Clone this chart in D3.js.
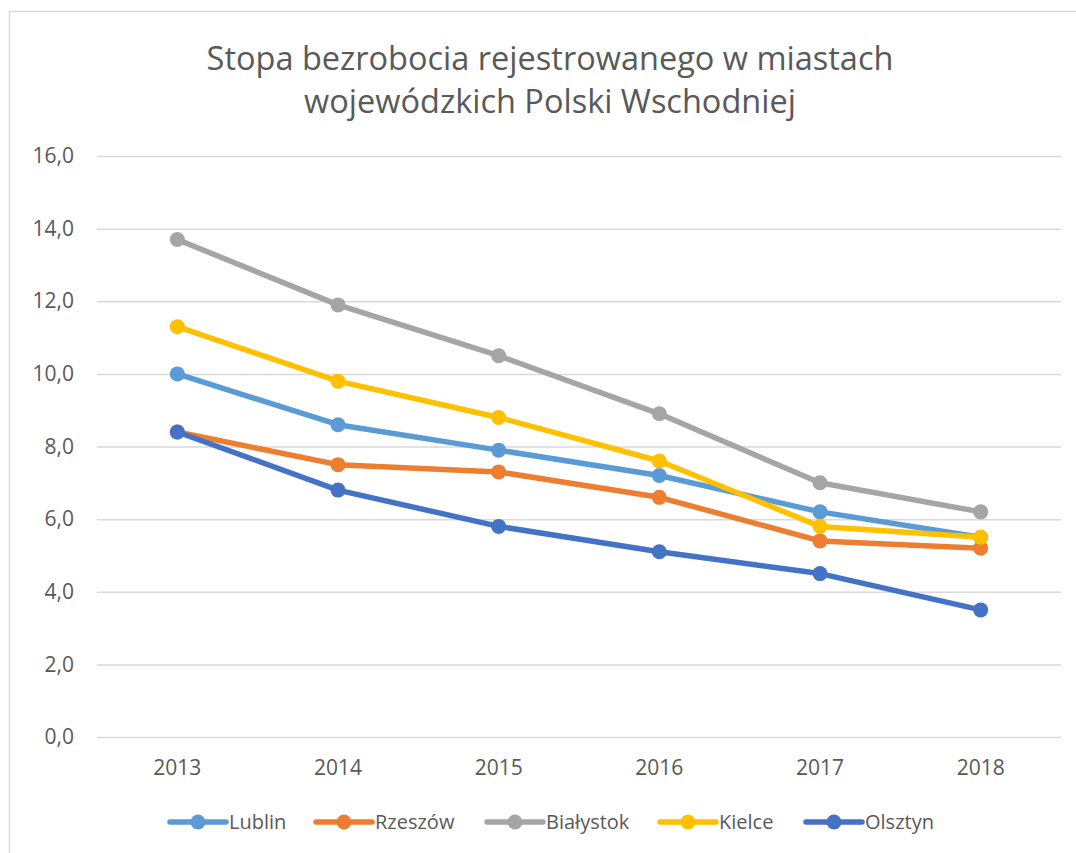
<!DOCTYPE html>
<html>
<head>
<meta charset="utf-8">
<script src="https://cdn.jsdelivr.net/npm/d3@7"></script>
<style>
  body { margin: 0; background: #fff; }
  text { font-family: "Open Sans", "Noto Sans", sans-serif; }
</style>
</head>
<body>
<div id="chart"></div>
<script>
// data
var years = ["2013", "2014", "2015", "2016", "2017", "2018"];
var lublin = [10.0, 8.6, 7.9, 7.2, 6.2, 5.5];
var rzeszow = [8.4, 7.5, 7.3, 6.6, 5.4, 5.2];
var bialystok = [13.7, 11.9, 10.5, 8.9, 7.0, 6.2];
var kielce = [11.3, 9.8, 8.8, 7.6, 5.8, 5.5];
var olsztyn = [8.4, 6.8, 5.8, 5.1, 4.5, 3.5];
var seriesNames = ["Lublin", "Rzeszów", "Białystok", "Kielce", "Olsztyn"];
var yTicks = [0, 2, 4, 6, 8, 10, 12, 14, 16];
var colors = ["#5B9BD5", "#ED7D31", "#A5A5A5", "#FFC000", "#4472C4"];

var allSeries = [lublin, rzeszow, bialystok, kielce, olsztyn];

var svgWidth = 1076, svgHeight = 853;
var margin = {top: 156, right: 15, bottom: 116, left: 97};
var chartWidth = 1061 - margin.left;
var chartHeight = svgHeight - margin.top - margin.bottom;

var svg = d3.select("#chart").append("svg")
  .attr("width", svgWidth)
  .attr("height", svgHeight);

// chart frame
svg.append("rect")
  .attr("x", 9.5).attr("y", 11.5)
  .attr("width", 1100).attr("height", 900)
  .attr("fill", "#fff")
  .attr("stroke", "#D9D9D9")
  .attr("stroke-width", 1.5);

// title
var title = svg.append("text")
  .attr("text-anchor", "middle")
  .attr("fill", "#595959")
  .style("font-size", "32.5px");
title.append("tspan").attr("x", 550).attr("y", 70).text("Stopa bezrobocia rejestrowanego w miastach");
title.append("tspan").attr("x", 550).attr("y", 113).text("wojewódzkich Polski Wschodniej");

var chartGroup = svg.append("g")
  .attr("transform", `translate(${margin.left}, ${margin.top})`);

var yScale = d3.scaleLinear()
  .domain([0, 16])
  .range([chartHeight, 0]);

var xScale = d3.scaleBand()
  .domain(years)
  .range([0, chartWidth]);

// y axis with gridlines
var yAxis = d3.axisLeft(yScale)
  .tickValues(yTicks)
  .tickSize(-chartWidth)
  .tickPadding(23)
  .tickFormat(d => d3.format(".1f")(d).replace(".", ","));

var yG = chartGroup.append("g").call(yAxis);
yG.select(".domain").remove();
yG.selectAll(".tick line").attr("stroke", "#D9D9D9").attr("stroke-width", 1.5);
yG.selectAll(".tick text")
  .attr("fill", "#595959")
  .style("font-size", "21px");

// x axis
var xAxis = d3.axisBottom(xScale).tickSize(0).tickPadding(23);
var xG = chartGroup.append("g")
  .attr("transform", `translate(0, ${chartHeight})`)
  .call(xAxis);
xG.select(".domain").remove();
xG.selectAll(".tick text")
  .attr("fill", "#595959")
  .style("font-size", "21px");

var line = d3.line()
  .x((d, i) => xScale(years[i]) + xScale.bandwidth() / 2)
  .y(d => yScale(d));

allSeries.forEach(function(s, k) {
  var g = chartGroup.append("g");
  g.append("path")
    .datum(s)
    .attr("d", line)
    .attr("fill", "none")
    .attr("stroke", colors[k])
    .attr("stroke-width", 5.5)
    .attr("stroke-linejoin", "round")
    .attr("stroke-linecap", "round");
  g.selectAll("circle")
    .data(s)
    .enter()
    .append("circle")
    .attr("cx", (d, i) => xScale(years[i]) + xScale.bandwidth() / 2)
    .attr("cy", d => yScale(d))
    .attr("r", 7.5)
    .attr("fill", colors[k]);
});

// legend
var legendX = [170, 316, 487, 660, 806];
var legendY = 822;
var legend = svg.append("g");
seriesNames.forEach(function(name, k) {
  var lg = legend.append("g").attr("transform", `translate(${legendX[k]}, ${legendY})`);
  lg.append("line")
    .attr("x1", 0).attr("x2", 56)
    .attr("y1", 0).attr("y2", 0)
    .attr("stroke", colors[k])
    .attr("stroke-width", 5.5)
    .attr("stroke-linecap", "round");
  lg.append("circle")
    .attr("cx", 28).attr("cy", 0).attr("r", 7.5)
    .attr("fill", colors[k]);
  lg.append("text")
    .attr("x", 59).attr("y", 7)
    .attr("fill", "#595959")
    .style("font-size", "20px")
    .text(name);
});
</script>
</body>
</html>
